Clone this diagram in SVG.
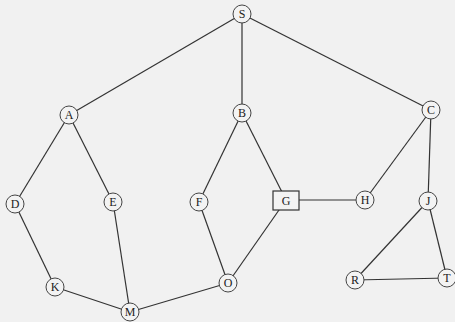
<svg xmlns="http://www.w3.org/2000/svg" width="455" height="322" viewBox="0 0 455 322">
<style>
.n circle{fill:#f3f3f3;stroke:#444;stroke-width:1}
.n rect{fill:#f3f3f3;stroke:#333;stroke-width:1.2}
.n text{font-family:"Liberation Serif",serif;font-size:12px;fill:#222;text-anchor:middle;dominant-baseline:central}
#edges line{stroke:#333;stroke-width:1.2}
</style>
<rect width="455" height="322" fill="#f1f1f1"/>
<g id="edges">
<line x1="242" y1="14" x2="69" y2="115"/>
<line x1="242" y1="14" x2="242" y2="113"/>
<line x1="242" y1="14" x2="431" y2="110"/>
<line x1="69" y1="115" x2="15" y2="204"/>
<line x1="69" y1="115" x2="113" y2="202"/>
<line x1="242" y1="113" x2="199" y2="202"/>
<line x1="242" y1="113" x2="286" y2="200"/>
<line x1="431" y1="110" x2="365" y2="200"/>
<line x1="431" y1="110" x2="428" y2="201"/>
<line x1="286" y1="200" x2="365" y2="200"/>
<line x1="15" y1="204" x2="55" y2="287"/>
<line x1="113" y1="202" x2="130" y2="312"/>
<line x1="55" y1="287" x2="130" y2="312"/>
<line x1="130" y1="312" x2="228" y2="283"/>
<line x1="199" y1="202" x2="228" y2="283"/>
<line x1="286" y1="200" x2="228" y2="283"/>
<line x1="428" y1="201" x2="355" y2="280"/>
<line x1="428" y1="201" x2="447" y2="278"/>
<line x1="355" y1="280" x2="447" y2="278"/>
</g>
<g id="S" class="n"><circle cx="242" cy="14" r="9"/><text x="242" y="14">S</text></g>
<g id="A" class="n"><circle cx="69" cy="115" r="9"/><text x="69" y="115">A</text></g>
<g id="B" class="n"><circle cx="242" cy="113" r="9"/><text x="242" y="113">B</text></g>
<g id="C" class="n"><circle cx="431" cy="110" r="9"/><text x="431" y="110">C</text></g>
<g id="D" class="n"><circle cx="15" cy="204" r="9"/><text x="15" y="204">D</text></g>
<g id="E" class="n"><circle cx="113" cy="202" r="9"/><text x="113" y="202">E</text></g>
<g id="F" class="n"><circle cx="199" cy="202" r="9"/><text x="199" y="202">F</text></g>
<g id="G" class="n"><rect x="273" y="191" width="26" height="19"/><text x="286" y="200.5">G</text></g>
<g id="H" class="n"><circle cx="365" cy="200" r="9"/><text x="365" y="200">H</text></g>
<g id="J" class="n"><circle cx="428" cy="201" r="9"/><text x="428" y="201">J</text></g>
<g id="K" class="n"><circle cx="55" cy="287" r="9"/><text x="55" y="287">K</text></g>
<g id="M" class="n"><circle cx="130" cy="312" r="9"/><text x="130" y="312">M</text></g>
<g id="O" class="n"><circle cx="228" cy="283" r="9"/><text x="228" y="283">O</text></g>
<g id="R" class="n"><circle cx="355" cy="280" r="9"/><text x="355" y="280">R</text></g>
<g id="T" class="n"><circle cx="447" cy="278" r="9"/><text x="447" y="278">T</text></g>
</svg>
